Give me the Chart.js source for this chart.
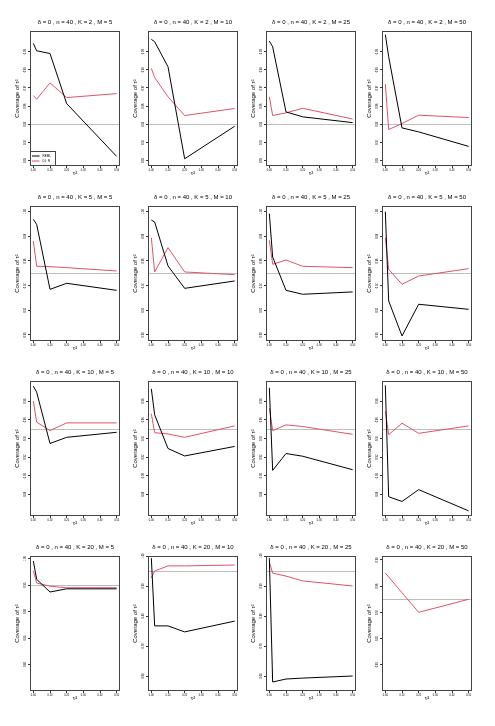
<!DOCTYPE html>
<html>
<head>
<meta charset="utf-8">
<script src="https://cdn.jsdelivr.net/npm/chart.js@4.4.1/dist/chart.umd.min.js"></script>
<style>
  html, body { margin: 0; padding: 0; background: #fff; }
  #wrap { position: relative; width: 495px; height: 726px; overflow: hidden; }
  #wrap canvas { position: absolute; }
</style>
</head>
<body>
<div id="wrap"></div>
<script>
// x values (tau^2) and the panel settings
const tau2 = [0, 0.02, 0.1, 0.2, 0.5];
const xTicks = [0, 0.1, 0.2, 0.3, 0.4, 0.5];
const Kvals = [2, 5, 10, 20];
const Mvals = [5, 10, 25, 50];
const nominal = 0.95;

// coverage, one inner array per M (5, 10, 25, 50)
const remlK2 = [
  [0.9946, 0.9905, 0.9890, 0.9614, 0.9323],
  [0.9968, 0.9955, 0.9817, 0.9310, 0.9489],
  [0.9959, 0.9927, 0.9568, 0.9541, 0.9509],
  [0.9994, 0.9872, 0.9480, 0.9458, 0.9378]
];
const dlrK2 = [
  [0.9658, 0.9638, 0.9728, 0.9647, 0.9669],
  [0.9808, 0.9758, 0.9651, 0.9548, 0.9587],
  [0.9651, 0.9548, 0.9563, 0.9588, 0.9529],
  [0.9721, 0.9471, 0.9504, 0.9550, 0.9537]
];
const remlK5 = [
  [0.9938, 0.9897, 0.9370, 0.9419, 0.9362],
  [0.9932, 0.9916, 0.9560, 0.9378, 0.9438],
  [0.9984, 0.9632, 0.9362, 0.9330, 0.9349],
  [1.0000, 0.9276, 0.8992, 0.9249, 0.9208]
];
const dlrK5 = [
  [0.9762, 0.9557, 0.9554, 0.9546, 0.9519],
  [0.9789, 0.9511, 0.9708, 0.9511, 0.9489],
  [0.9768, 0.9573, 0.9608, 0.9557, 0.9546],
  [0.9789, 0.9532, 0.9411, 0.9478, 0.9538]
];
const remlK10 = [
  [0.9962, 0.9897, 0.9346, 0.9412, 0.9466],
  [0.9933, 0.9654, 0.9292, 0.9212, 0.9314],
  [0.9944, 0.9057, 0.9238, 0.9209, 0.9064],
  [0.9970, 0.8774, 0.8723, 0.8850, 0.8622]
];
const dlrK10 = [
  [0.9803, 0.9575, 0.9484, 0.9567, 0.9567],
  [0.9665, 0.9462, 0.9448, 0.9412, 0.9535],
  [0.9727, 0.9484, 0.9546, 0.9528, 0.9444],
  [0.9691, 0.9441, 0.9564, 0.9455, 0.9535]
];
const remlK20 = [
  [0.9956, 0.9610, 0.9370, 0.9430, 0.9430],
  [0.9930, 0.7670, 0.7670, 0.7470, 0.7830],
  [0.9930, 0.5800, 0.5900, 0.5930, 0.6000],
  [null, null, null, null, null]
];
const dlrK20 = [
  [0.9770, 0.9540, 0.9480, 0.9450, 0.9450],
  [0.9270, 0.9500, 0.9670, 0.9670, 0.9700],
  [0.9800, 0.9430, 0.9330, 0.9170, 0.9000],
  [0.9700, 0.9670, 0.9550, 0.9400, 0.9500]
];

// y axis ticks and limits for each row of panels
const yTicksK2 = [0.93, 0.94, 0.95, 0.96, 0.97, 0.98, 0.99];
const yTicksK5 = [0.90, 0.92, 0.94, 0.96, 0.98, 1.00];
const yTicksK10 = [0.88, 0.90, 0.92, 0.94, 0.96, 0.98];
const yTicksK20 = [
  [0.80, 0.85, 0.90, 0.95, 1.00],
  [0.6, 0.7, 0.8, 0.9, 1.0],
  [0.6, 0.7, 0.8, 0.9, 1.0],
  [0.90, 0.92, 0.94, 0.96, 0.98]
];
const yLimK2 = [0.927, 1.0014];
const yLimK5 = [0.8951, 1.0046];
const yLimK10 = [0.8567, 1.0017];
const yLimK20 = [[0.75, 1.005], [0.55, 1.0], [0.55, 1.0], [0.88, 0.983]];

const rows = [
  { reml: remlK2, dlr: dlrK2, ticks: () => yTicksK2, lim: () => yLimK2 },
  { reml: remlK5, dlr: dlrK5, ticks: () => yTicksK5, lim: () => yLimK5 },
  { reml: remlK10, dlr: dlrK10, ticks: () => yTicksK10, lim: () => yLimK10 },
  { reml: remlK20, dlr: dlrK20, ticks: j => yTicksK20[j], lim: j => yLimK20[j] }
];

const FONT = "'Liberation Sans', Arial, sans-serif";
const boxLeft = [30, 148, 266, 382];
const boxTop = [31, 206, 381, 556];
const CW = 124, CH = 181;

const framePlugin = {
  id: 'frame',
  beforeDatasetsDraw(chart) {
    const { ctx, chartArea: a, scales: { y } } = chart;
    const yy = Math.round(y.getPixelForValue(nominal)) + 0.5;
    ctx.save();
    ctx.strokeStyle = '#BEBEBE';
    ctx.lineWidth = 1;
    ctx.beginPath();
    ctx.moveTo(a.left, yy);
    ctx.lineTo(a.right, yy);
    ctx.stroke();
    ctx.restore();
  },
  afterDraw(chart, args, opts) {
    const { ctx, chartArea: a } = chart;
    ctx.save();
    ctx.strokeStyle = '#444';
    ctx.lineWidth = 1;
    ctx.strokeRect(a.left + 0.5, a.top + 0.5, a.width - 1, a.height - 1);
    if (opts.legend) {
      const lx = a.left + 0.5, ly = a.bottom - 14.5;
      ctx.strokeRect(lx, ly, 25, 14);
      const items = [['REML', '#000000'], ['DL_R', '#DF536B']];
      ctx.font = '3px ' + FONT;
      ctx.textBaseline = 'middle';
      items.forEach(([txt, col], i) => {
        const yy = ly + 4.5 + i * 5;
        ctx.strokeStyle = col;
        ctx.beginPath();
        ctx.moveTo(lx + 1.5, yy);
        ctx.lineTo(lx + 9, yy);
        ctx.stroke();
        ctx.fillStyle = '#000';
        ctx.fillText(txt, lx + 12, yy);
      });
    }
    ctx.restore();
  }
};

const wrap = document.getElementById('wrap');

rows.forEach((row, i) => {
  Mvals.forEach((M, j) => {
    const cv = document.createElement('canvas');
    cv.width = CW; cv.height = CH;
    cv.style.width = CW + 'px'; cv.style.height = CH + 'px';
    cv.style.left = (boxLeft[j] - 30) + 'px';
    cv.style.top = (boxTop[i] - 31) + 'px';
    wrap.appendChild(cv);

    const yt = row.ticks(j);
    const yl = row.lim(j);
    new Chart(cv.getContext('2d'), {
      type: 'line',
      plugins: [framePlugin],
      data: {
        datasets: [
          {
            label: 'REML',
            data: tau2.map((x, k) => ({ x: x, y: row.reml[j][k] })),
            borderColor: '#000000',
            borderWidth: 1,
            pointRadius: 0,
            tension: 0,
            fill: false
          },
          {
            label: 'DL_R',
            data: tau2.map((x, k) => ({ x: x, y: row.dlr[j][k] })),
            borderColor: '#DF536B',
            borderWidth: 1,
            pointRadius: 0,
            tension: 0,
            fill: false
          }
        ]
      },
      options: {
        responsive: false,
        animation: false,
        devicePixelRatio: 1,
        layout: { padding: { left: 0, right: CW - 120, top: 0, bottom: 0 } },
        plugins: {
          legend: { display: false },
          tooltip: { enabled: false },
          title: {
            display: true,
            fullSize: false,
            text: 'δ = 0 , n = 40 , K = ' + Kvals[i] + ' , M = ' + M,
            color: '#000',
            font: { family: FONT, size: 6, weight: 'normal' },
            padding: { top: 19, bottom: 4.8 }
          },
          frame: { legend: i === 0 && j === 0 }
        },
        scales: {
          x: {
            type: 'linear',
            min: -0.02,
            max: 0.52,
            afterBuildTicks: s => { s.ticks = xTicks.map(v => ({ value: v })); },
            afterFit: s => { s.height = 15; },
            grid: { drawOnChartArea: false, drawTicks: true, tickLength: 2, color: '#333' },
            border: { display: false },
            ticks: {
              color: '#000',
              font: { family: FONT, size: 2.6 },
              padding: 1,
              maxRotation: 0,
              callback: v => v.toFixed(2)
            },
            title: {
              display: true,
              text: 'τ²',
              color: '#000',
              font: { family: FONT, size: 6 },
              padding: { top: 0, bottom: 4.4 }
            }
          },
          y: {
            type: 'linear',
            min: yl[0],
            max: yl[1],
            afterBuildTicks: s => { s.ticks = yt.map(v => ({ value: v })); },
            afterFit: s => { s.width = 30; },
            grid: { drawOnChartArea: false, drawTicks: true, tickLength: 2, color: '#333' },
            border: { display: false },
            ticks: {
              color: '#000',
              font: { family: FONT, size: 2.6 },
              padding: 0.3,
              minRotation: 90,
              maxRotation: 90,
              crossAlign: 'center',
              callback: v => v.toFixed(2)
            },
            title: {
              display: true,
              text: 'Coverage of τ²',
              color: '#000',
              font: { family: FONT, size: 6 },
              padding: { top: 13.4, bottom: 0 }
            }
          }
        }
      }
    });
  });
});
</script>
</body>
</html>
